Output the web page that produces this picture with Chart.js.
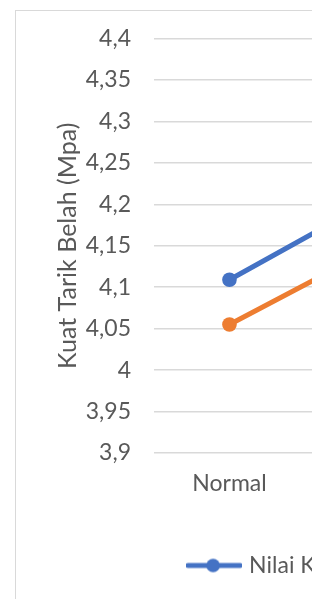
<!DOCTYPE html>
<html>
<head>
<meta charset="utf-8">
<script src="https://cdn.jsdelivr.net/npm/chart.js@4"></script>
<style>
  html, body { margin: 0; padding: 0; background: #fff; overflow: hidden; }
  body { width: 312px; height: 599px; position: relative; }
  #frame {
    position: absolute; left: 15px; top: 10px;
    width: 940px; height: 640px;
    border: 1.5px solid #d9d9d9;
  }
  #wrap { position: absolute; left: 0; top: 0; width: 900px; height: 588px; }
</style>
</head>
<body>
<div id="frame"><div id="wrap"><canvas id="chart"></canvas></div></div>
<script>
/* Kuat Tarik Belah — line chart (only the left part is visible) */

const CATEGORIES = ["Normal", "Variasi 1", "Variasi 2", "Variasi 3", "Variasi 4"];
const SERIES_NAMES = ["Nilai Kuat Tarik Belah", "Nilai Rata-rata (Mpa)"];
const SERIES_A = [4.109, 4.21, 4.28, 4.25, 4.18];
const SERIES_B = [4.055, 4.151, 4.22, 4.2, 4.12];
const Y_TICKS = [3.9, 3.95, 4, 4.05, 4.1, 4.15, 4.2, 4.25, 4.3, 4.35, 4.4];

const FONT = "Lato, 'Open Sans', sans-serif";
const TEXT = "#595959";
const GRID = "#d9d9d9";
const COLORS = ["#4472c4", "#ed7d31"];
const LINE_W = 5;

/**
 * Legend marker: short line with a dot in the middle, like Excel.
 */
function legendMarker(color) {
  const c = document.createElement("canvas");
  c.width = 56;
  c.height = 16;
  const g = c.getContext("2d");
  g.strokeStyle = color;
  g.lineWidth = LINE_W;
  g.lineCap = "round";
  g.beginPath();
  g.moveTo(2, 8);
  g.lineTo(54, 8);
  g.stroke();
  g.fillStyle = color;
  g.beginPath();
  g.arc(27, 8, 6.8, 0, Math.PI * 2);
  g.fill();
  return c;
}

const MARKERS = COLORS.map(legendMarker);

function fmt(v) {
  return String(+v.toFixed(2)).replace(".", ",");
}

function lineSeries(label, data, color) {
  return {
    label,
    data,
    borderColor: color,
    backgroundColor: color,
    borderWidth: LINE_W,
    pointStyle: "circle",
    pointRadius: 7.3,
    pointBorderWidth: 0,
    pointBackgroundColor: color,
  };
}

new Chart(document.getElementById("chart"), {
  type: "line",
  data: {
    labels: CATEGORIES,
    datasets: [
      lineSeries(SERIES_NAMES[0], SERIES_A, COLORS[0]),
      lineSeries(SERIES_NAMES[1], SERIES_B, COLORS[1]),
    ],
  },
  options: {
    responsive: true,
    maintainAspectRatio: false,
    animation: false,
    layout: { padding: { top: 27.5, bottom: 12, left: 0, right: 2 } },
    plugins: {
      legend: {
        position: "bottom",
        labels: {
          color: TEXT,
          font: { size: 23, family: FONT },
          usePointStyle: true,
          pointStyleWidth: 47,
          padding: 10,
          generateLabels: (chart) =>
            chart.data.datasets.map((ds, i) => ({
              text: ds.label,
              fontColor: TEXT,
              pointStyle: MARKERS[i],
              datasetIndex: i,
              lineWidth: 0,
            })),
        },
      },
      tooltip: { enabled: false },
    },
    scales: {
      x: {
        offset: true,
        grid: { display: false },
        border: { display: false },
        ticks: { color: TEXT, font: { size: 23, family: FONT }, padding: 9 },
        afterFit: (s) => { s.height = 91; },
      },
      y: {
        min: 3.9,
        max: 4.4,
        afterBuildTicks: (s) => { s.ticks = Y_TICKS.map((v) => ({ value: v })); },
        grid: { color: GRID, lineWidth: 1.5, drawTicks: true, tickLength: 23, tickColor: "rgba(0,0,0,0)" },
        border: { display: false },
        ticks: {
          color: TEXT,
          font: { size: 23, family: FONT },
          padding: 0,
          callback: (v) => fmt(v),
        },
        title: {
          display: true,
          text: "Kuat Tarik Belah (Mpa)",
          color: TEXT,
          font: { size: 25, family: FONT },
          padding: { top: 37, bottom: 0 },
        },
        afterFit: (s) => { s.width = 138; },
      },
    },
  },
});
</script>
</body>
</html>
